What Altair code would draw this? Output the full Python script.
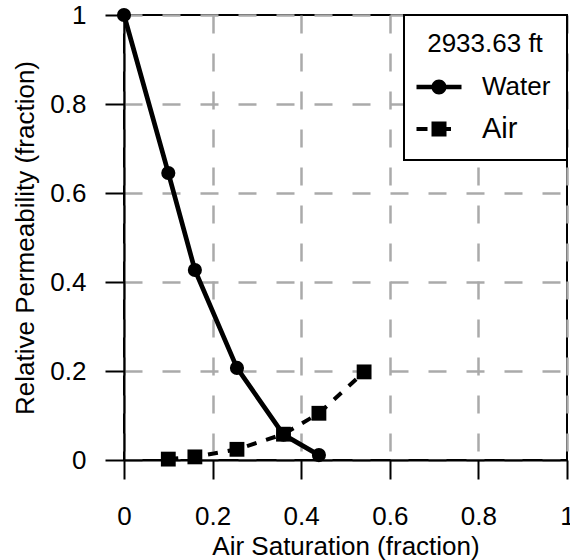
import altair as alt
import pandas as pd

# Data
water_sat = [0.0, 0.10, 0.16, 0.255, 0.36, 0.44]
water_kr = [1.0, 0.645, 0.427, 0.207, 0.057, 0.011]
air_sat = [0.10, 0.16, 0.255, 0.36, 0.44, 0.542]
air_kr = [0.002, 0.007, 0.024, 0.058, 0.105, 0.198]
series_names = ["Water", "Air"]
legend_title = "2933.63 ft"
ticks = [0, 0.2, 0.4, 0.6, 0.8, 1]

water = pd.DataFrame({"sat": water_sat, "kr": water_kr, "series": "Water"})
air = pd.DataFrame({"sat": air_sat, "kr": air_kr, "series": "Air"})
both = pd.concat([water, air], ignore_index=True)

FONT = "Liberation Sans"

x_enc = alt.X("sat:Q", scale=alt.Scale(domain=[0, 1], nice=False, zero=False),
              axis=alt.Axis(values=ticks, format="~g", title="Air Saturation (fraction)",
                            titleY=94, titleBaseline="alphabetic", labelPadding=24))
y_enc = alt.Y("kr:Q", scale=alt.Scale(domain=[0, 1], nice=False, zero=False),
              axis=alt.Axis(values=ticks, format="~g", title="Relative Permeability (fraction)",
                            titleX=-91, titleBaseline="alphabetic", labelPadding=19))

base_w = alt.Chart(water)
base_a = alt.Chart(air)

water_line = base_w.mark_line(color="black", strokeWidth=4.7).encode(x=x_enc, y=y_enc)
air_line = base_a.mark_line(color="black", strokeWidth=4, strokeDash=[10, 10]).encode(x=x_enc, y=y_enc)
water_pts = base_w.mark_point(shape="circle", filled=True, color="black", size=200, opacity=1).encode(x=x_enc, y=y_enc)
air_pts = base_a.mark_point(shape="square", filled=True, color="black", size=220, opacity=1).encode(x=x_enc, y=y_enc)

# custom legend symbols (line + marker), unit = 10 px
water_sym = ("M-2.25,-0.23H2.25V0.23H-2.25Z "
             "M-0.75,0A0.75,0.75 0 1,1 0.75,0A0.75,0.75 0 1,1 -0.75,0Z")
air_sym = ("M-2.25,-0.2H-1.15V0.2H-2.25Z "
           "M-0.75,-0.75H0.75V0.75H-0.75Z "
           "M0.75,-0.2H1.2V0.2H0.75Z")

legend_layer = alt.Chart(both).transform_filter("false").mark_point(
    filled=True, color="black", opacity=1
).encode(
    x=x_enc, y=y_enc,
    shape=alt.Shape("series:N",
                    scale=alt.Scale(domain=series_names, range=[water_sym, air_sym]),
                    legend=alt.Legend(title=legend_title, orient="top-right", offset=0,
                                      symbolSize=400, symbolOffset=6, labelOffset=30,
                                      symbolStrokeWidth=0,
                                      labelFontSize={"expr": "datum.label == 'Air' ? 29 : 26"},
                                      fillColor="white", strokeColor="black",
                                      padding=16, titleAnchor="middle", titlePadding=17,
                                      rowPadding=15)),
)

chart = alt.layer(water_line, air_line, water_pts, air_pts, legend_layer).properties(
    width=443, height=445,
    autosize=alt.AutoSizeParams(type="none"),
    padding={"left": 124, "top": 15, "right": 3, "bottom": 100},
).configure_view(
    stroke="black", strokeWidth=2
).configure_axis(
    labelFont=FONT, titleFont=FONT, labelFontSize=26, titleFontSize=26,
    labelColor="black", titleColor="black", titleFontWeight="normal",
    domainColor="black", domainWidth=2, tickColor="black", tickWidth=2, tickSize=19,
    grid=True, gridColor="#aaaaaa", gridWidth=2.5, gridDash=[18, 20],
    labelFlush=False, labelOverlap=False,
).configure_legend(
    labelFont=FONT, titleFont=FONT, labelFontSize=26, titleFontSize=26,
    labelColor="black", titleColor="black", titleFontWeight="normal",
    strokeWidth=2, cornerRadius=0,
)

chart.save("out.html", embed_options={"renderer": "svg", "actions": False})
